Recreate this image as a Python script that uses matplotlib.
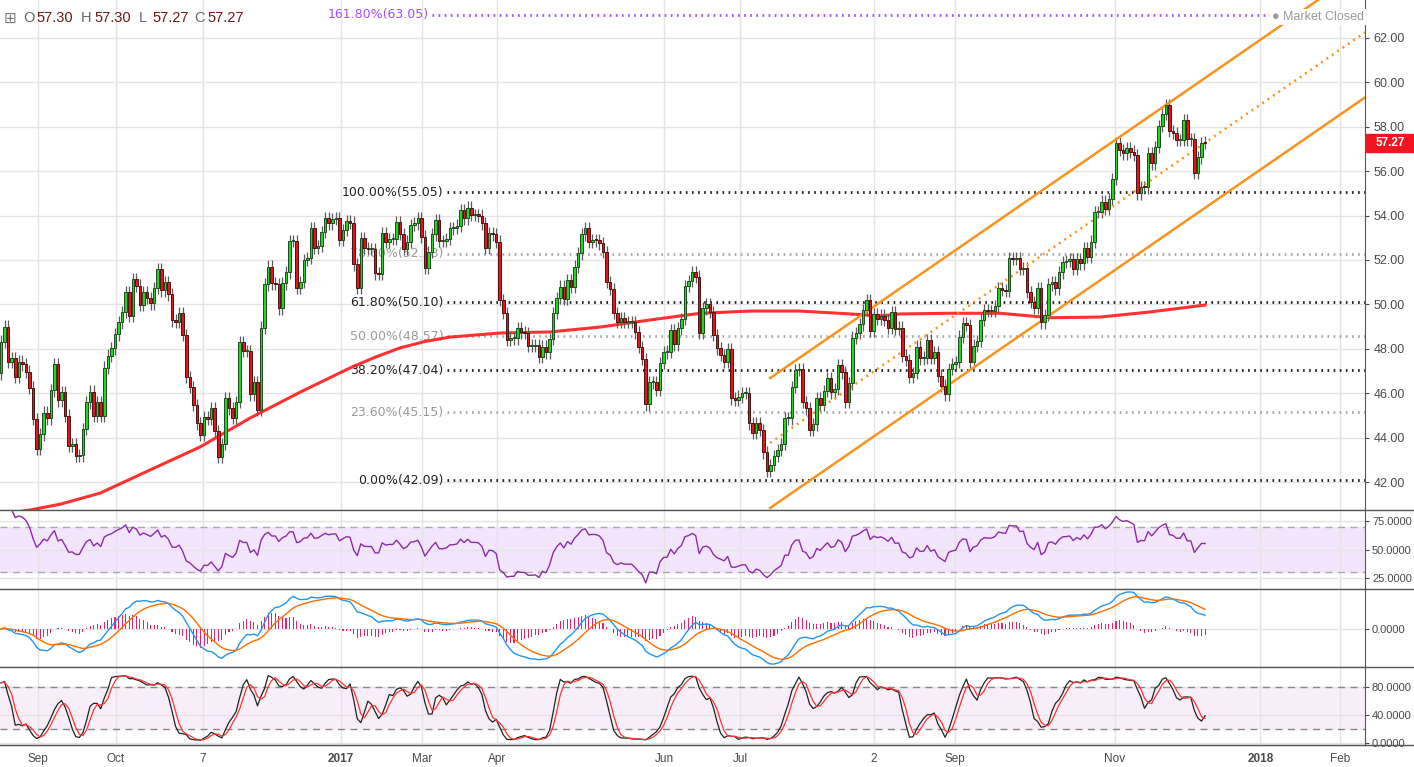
import numpy as np
import pandas as pd
import matplotlib
matplotlib.use('Agg')
import matplotlib.pyplot as plt
from matplotlib.patches import Rectangle

# daily closes (left to right)
closes = [
    48.32, 49.0, 47.42, 47.57, 46.74, 47.42, 47.3, 46.97, 46.25, 44.84,
    43.48, 44.15, 45.13, 44.87, 46.13, 47.30, 45.68, 46.04, 44.99, 43.63,
    43.7, 43.18, 43.2, 44.4, 45.59, 46.07, 44.99, 45.59, 44.99, 47.15,
    47.69, 48.02, 48.65, 49.19, 49.67, 50.54, 49.5,
    51.14, 50.85, 49.97, 50.54, 50.3, 50.05, 50.75, 51.59, 50.63, 51.0,
    50.45, 49.28, 49.22, 49.6, 48.62, 46.74, 46.29, 45.47, 44.64, 44.12,
    44.94, 44.84, 45.32, 44.3, 43.14, 43.7, 45.77, 45.32, 44.9, 45.6,
    48.29, 47.9, 47.9, 45.95,
    46.49, 45.24, 48.95, 50.9, 51.7, 50.95, 50.93, 49.82, 50.95, 51.44,
    52.85, 52.85, 50.75, 51.02, 52.0, 52.1, 53.45, 52.53, 52.64, 53.27,
    53.88, 53.65, 53.85, 53.87, 52.9, 53.35, 53.76, 53.68, 51.8, 50.75,
    53.0, 52.53, 52.5, 52.5, 51.4,
    51.37, 53.2, 52.83, 52.95, 52.95, 53.72, 53.16, 52.5, 52.83, 53.57,
    53.65, 53.87, 53.05, 51.65, 52.37, 53.15, 53.8, 52.85, 52.85, 52.95,
    53.42, 53.45, 53.55, 54.25, 53.87, 54.36, 54.03, 54.03, 54.0, 53.65,
    52.53, 53.2, 53.15, 52.83, 50.2,
    49.6, 48.4, 48.47, 48.47, 48.92, 48.74, 48.7, 48.14, 48.14, 48.17,
    47.64, 48.1, 47.84, 48.44, 49.6, 50.3, 50.8, 50.24, 51.1, 50.8,
    51.7, 52.3, 53.15, 53.43, 52.83, 52.9, 52.88, 52.75, 52.35, 51.0,
    50.7, 49.6, 49.22, 49.4, 49.2,
    49.2, 49.2, 48.74, 48.07, 47.53, 45.5, 46.49, 46.49, 46.14, 47.35,
    47.84, 47.87, 48.85, 48.2, 48.92, 49.34, 50.84, 51.05, 51.47, 51.25,
    48.7, 49.82, 50.0, 49.67, 48.62, 48.02, 47.72, 47.42, 47.99, 45.77,
    45.7, 45.85, 46.0, 46.0, 44.64,
    44.23, 44.64, 44.34, 43.33, 42.49, 42.77, 43.18, 43.44, 43.7, 44.87,
    44.87, 46.29, 47.04, 47.1, 45.6, 45.32, 44.34, 44.6, 45.77, 45.47,
    46.1, 46.67, 46.04, 46.19, 47.27, 46.94, 45.6, 46.44, 48.5, 48.7,
    49.1, 49.75, 50.2, 48.8, 49.55, 49.34,
    49.5, 49.3, 48.95, 49.65, 48.89, 48.95, 47.69, 47.5, 46.74, 46.9,
    48.1, 47.57, 47.6, 48.4, 47.6, 47.84, 46.79, 46.34, 45.95, 47.1,
    47.3, 47.4, 48.55, 49.15, 49.07, 47.42, 48.14, 48.35, 49.3, 49.75,
    49.7, 49.7, 49.94, 50.72, 50.65, 50.6,
    52.1, 52.05, 52.07, 51.6, 51.65, 50.55, 50.12, 49.85, 50.75, 49.19,
    49.52, 50.9, 51.0, 50.72, 51.44, 51.9, 51.95, 52.05, 51.6, 52.05,
    51.85, 52.52, 52.15, 52.83, 54.15, 54.15, 54.63, 54.3, 54.75, 55.65,
    57.25, 56.95, 56.8, 57.03,
    56.88, 56.73, 55.0, 55.3, 55.27, 56.8, 56.35, 57.1, 58.03, 58.57,
    58.98, 57.82, 57.73, 57.4, 57.4, 58.3, 57.43, 57.43, 55.93, 56.62,
    57.28, 57.27,
]
first_open = 46.89
last_open = 57.30

# 200-day moving average (sampled along the curve)
ma_idx = [0, 8.1, 16.6, 27.8, 41.8, 55.9, 69.9, 84.0, 98.0, 105.0, 112.0, 119.0, 126.1,
          140.1, 154.1, 168.2, 182.2, 196.3, 210.3, 224.3, 238.4, 246.8, 252.4, 266.4,
          280.5, 294.5, 308.5, 322.6, 338]
ma_val = [40.55, 40.74, 41.0, 41.5, 42.54, 43.58, 44.88, 46.05, 47.14, 47.62, 48.04, 48.33,
          48.53, 48.71, 48.76, 48.98, 49.3, 49.6, 49.7, 49.7, 49.57, 49.48, 49.57, 49.6,
          49.6, 49.4, 49.43, 49.66, 49.97]

# fibonacci levels
fib_pct = ['161.80%', '100.00%', '78.60%', '61.80%', '50.00%', '38.20%', '23.60%', '0.00%']
fib_val = [63.05, 55.05, 52.28, 50.10, 48.57, 47.04, 45.15, 42.09]
fib_kind = ['ext', 'key', 'minor', 'key', 'minor', 'key', 'minor', 'key']

# trend channel
chan_idx = [215.9, 382.9]
chan_upper = [46.68, 65.17]
chan_mid = [43.76, 62.25]
chan_lower = [40.83, 59.32]

month_labels = ['Sep', 'Oct', '7', '2017', 'Mar', 'Apr', 'Jun', 'Jul', '2', 'Sep', 'Nov', '2018', 'Feb']
month_idx = [10.4, 32.3, 56.7, 95.5, 118.2, 139.2, 186.1, 207.5, 245.1, 267.8, 312.7, 353.5, 375.9]

c = np.array(closes)
n = len(c)
x = np.arange(n)
o = np.r_[first_open, c[:-1]]
o[-1] = last_open
wick = 0.28
body_lo = np.minimum(o, c)
body_hi = np.maximum(o, c)
hi = body_hi + wick
lo = body_lo - wick

# indicators
s = pd.Series(c)
d = s.diff()
g = d.clip(lower=0).ewm(alpha=1 / 14, adjust=False).mean()
l = (-d.clip(upper=0)).ewm(alpha=1 / 14, adjust=False).mean()
rsi = 100 - 100 / (1 + g / l)
macd = s.ewm(span=12, adjust=False).mean() - s.ewm(span=26, adjust=False).mean()
signal = macd.ewm(span=9, adjust=False).mean()
hist = macd - signal
hh = pd.Series(hi).rolling(14, min_periods=1).max()
ll = pd.Series(lo).rolling(14, min_periods=1).min()
k_raw = 100 * (s - ll) / (hh - ll)
k = k_raw.rolling(3, min_periods=1).mean()
dline = k.rolling(3, min_periods=1).mean()

# layout
W, H = 1414, 767
fig = plt.figure(figsize=(W / 100, H / 100), dpi=100)
right = 1365 / W
ax = fig.add_axes([0, (H - 510) / H, right, 510 / H])
ax_rsi = fig.add_axes([0, (H - 589) / H, right, 78 / H])
ax_macd = fig.add_axes([0, (H - 667) / H, right, 78 / H])
ax_st = fig.add_axes([0, (H - 745) / H, right, 78 / H])

xlim = (-0.28, 382.9)
edge = '#555555'
gridc = '#e4e4e4'
tickc = '#4a4a4a'
fmt = matplotlib.ticker.FormatStrFormatter
for a in (ax, ax_rsi, ax_macd, ax_st):
    a.set_xlim(*xlim)
    a.spines['left'].set_visible(False)
    a.spines['top'].set_visible(False)
    a.spines['right'].set_color(edge)
    a.spines['bottom'].set_color(edge)
    a.yaxis.tick_right()
    a.tick_params(axis='y', colors=tickc, labelsize=8, length=3, pad=2)
    a.tick_params(axis='x', length=0)
    a.set_xticks(month_idx)
    a.grid(True, color=gridc, lw=1)
    a.set_axisbelow(True)
ax.tick_params(axis='y', labelsize=9, pad=3)
for a in (ax, ax_rsi, ax_macd):
    a.set_xticklabels([])
ax_st.set_xticklabels(month_labels, fontsize=8.5, color=tickc, family='Liberation Sans')
for t in ax_st.get_xticklabels():
    if t.get_text() in ('2017', '2018'):
        t.set_fontweight('bold')
ax_st.tick_params(axis='x', pad=6)

# main price panel
ax.set_ylim(40.74, 63.71)
ax.set_yticks(np.arange(42, 63, 2))
ax.yaxis.set_major_formatter(fmt('%.2f'))

line_start = {'ext': 121.0}
for pct, val, kind in zip(fib_pct, fib_val, fib_kind):
    x0 = line_start.get(kind, 125.2)
    col = {'ext': '#a64dff', 'key': '#222222', 'minor': '#a8a8a8'}[kind]
    tcol = {'ext': '#a64dff', 'key': '#222222', 'minor': '#9a9a9a'}[kind]
    ax.plot([x0, xlim[1]], [val, val], color=col, lw=2,
            linestyle=(0, (0.6, 1.6)), zorder=2)
    ax.text(x0 - 1.0, val, f'{pct}({val:.2f})', ha='right', va='center',
            fontsize=9, color=tcol, family='DejaVu Sans', zorder=1)

orange = '#f7931e'
ax.plot(chan_idx, chan_upper, color=orange, lw=1.8, zorder=5)
ax.plot(chan_idx, chan_lower, color=orange, lw=1.8, zorder=5)
ax.plot(chan_idx, chan_mid, color=orange, lw=1.8, linestyle=(0, (0.8, 1.8)), zorder=5)

ax.plot(ma_idx, ma_val, color='#ff1a1a', lw=2.2, alpha=0.9, zorder=3)

up = c >= o
bh = np.maximum(body_hi - body_lo, 0.05)
ax.vlines(x, lo, hi, color='#5a5a5a', lw=0.9, zorder=4)
ax.bar(x[up], bh[up], bottom=body_lo[up], width=0.72, color='#25d425',
       edgecolor='#1b4d1b', lw=0.7, zorder=6)
ax.bar(x[~up], bh[~up], bottom=body_lo[~up], width=0.72, color='#e3141c',
       edgecolor='#4d1010', lw=0.7, zorder=6)

# last price tag
ydisp = ax.transData.transform((0, c[-1]))[1]
yf = ydisp / H
fig.patches.append(Rectangle((1366 / W, yf - 9 / H), 48 / W, 18 / H,
                             transform=fig.transFigure, color='#f2141e', zorder=10))
fig.text(1390 / W, yf, f'{c[-1]:.2f}', ha='center', va='center', color='white',
         fontsize=8.5, fontweight='bold', family='Liberation Sans', zorder=11)

# header
hy = 1 - 18 / H
fig.text(4 / W, hy, '\u229e', fontsize=11, color='#777777', va='center', family='DejaVu Sans')
parts = [('O', '57.30', 23), ('H', '57.30', 81), ('L', '57.27', 139), ('C', '57.27', 194)]
for lab, num, px in parts:
    fig.text(px / W, hy, lab, fontsize=10.5, color='#666666', va='center', family='Liberation Sans')
    fig.text((px + 13) / W, hy, num, fontsize=10.5, color='#6b1a1a', va='center', family='Liberation Sans')
fig.text(1272 / W, 1 - 17 / H, '\u25cf Market Closed', fontsize=9, color='#999999', va='center',
         family='Liberation Sans', bbox=dict(facecolor='white', edgecolor='none', pad=1.5), zorder=12)

# RSI panel
ax_rsi.set_ylim(15.35, 83.8)
ax_rsi.set_yticks([25, 50, 75])
ax_rsi.yaxis.set_major_formatter(fmt('%.4f'))
ax_rsi.axhspan(30, 70, color='#f3e6fc', zorder=0)
ax_rsi.axhline(70, color='#aaaaaa', lw=1, ls=(0, (5, 4)))
ax_rsi.axhline(30, color='#aaaaaa', lw=1, ls=(0, (5, 4)))
ax_rsi.plot(x[2:], rsi[2:], color='#8e2aa8', lw=1)

# MACD panel
top = np.nanmax(np.abs(macd)) * 1.08
ax_macd.set_ylim(-top * 38 / 40, top)
ax_macd.set_yticks([0])
ax_macd.yaxis.set_major_formatter(fmt('%.4f'))
ax_macd.bar(x, hist, width=0.3, color='#e8216a', zorder=2)
ax_macd.plot(x, macd, color='#2196f3', lw=1, zorder=3)
ax_macd.plot(x, signal, color='#ff6d00', lw=1, zorder=3)

# Stochastic panel
ax_st.set_ylim(-2.86, 108.6)
ax_st.set_yticks([0, 40, 80])
ax_st.yaxis.set_major_formatter(fmt('%.4f'))
ax_st.axhspan(20, 80, color='#f8eef8', zorder=0)
ax_st.axhline(80, color='#888888', lw=1, ls=(0, (5, 4)))
ax_st.axhline(20, color='#888888', lw=1, ls=(0, (5, 4)))
ax_st.plot(x, k, color='#222222', lw=0.9)
ax_st.plot(x, dline, color='#ff3333', lw=0.9)

for a in (ax, ax_rsi, ax_macd, ax_st):
    for t in a.get_yticklabels():
        t.set_family('Liberation Sans')

# panel separators across the price axis area
for yy in (510, 589, 667, 745):
    fig.add_artist(plt.Line2D([0, 1], [1 - yy / H, 1 - yy / H], color=edge, lw=1,
                              transform=fig.transFigure))

fig.savefig('out.png', dpi=100)
